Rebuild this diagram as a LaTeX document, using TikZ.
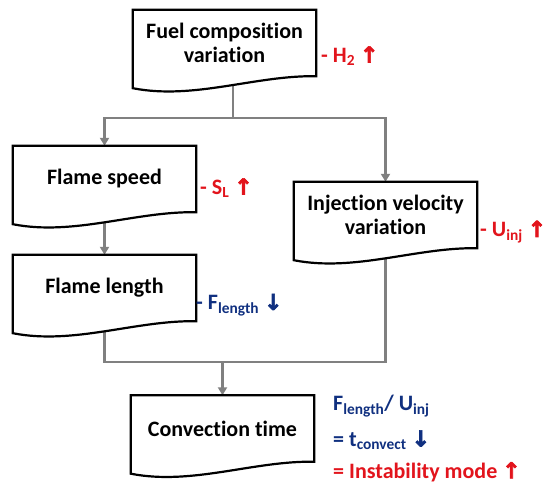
\documentclass[tikz,border=0pt]{standalone}
\usepackage{fontspec}
\setmainfont{Carlito}[Ligatures=NoCommon]
\newfontfamily\arrowfont{DejaVu Sans}[FakeBold=3]
\usetikzlibrary{arrows.meta, calc}

\definecolor{upred}{RGB}{226,20,28}
\definecolor{downblue}{RGB}{16,48,128}
\definecolor{linegray}{RGB}{128,128,128}

\pgfdeclarelayer{wires}
\pgfdeclarelayer{boxes}
\pgfsetlayers{wires,boxes,main}

\newcommand{\arrup}{{\arrowfont ↑}}
\newcommand{\arrdown}{{\arrowfont ↓}}
\newcommand{\docoutline}[1]{%
  \draw[docline] (#1.north west) -- (#1.north east) -- (#1.south east)
    .. controls ($(#1.south east)!0.333!(#1.south west)+(0,1pt)$)
    and ($(#1.south east)!0.667!(#1.south west)+(0,-24pt)$)
    .. ($(#1.south west)+(0,-12pt)$) -- cycle;}

\begin{document}
\begin{tikzpicture}[x=1pt, y=-1pt,
  doc/.style={minimum width=183pt, minimum height=66pt, inner sep=0pt, align=center, font=\fontsize{22}{24}\selectfont\bfseries},
  docline/.style={draw=black, line width=2.2pt, fill=white},
  wire/.style={draw=linegray, line width=2.6pt},
  flow/.style={wire, -{Triangle[length=8pt, width=9pt]}},
  note/.style={anchor=west, inner sep=0pt, font=\fontsize{22}{24}\selectfont\bfseries}]
  \useasboundingbox (0,0) rectangle (550,499);
  % boxes
  \node[doc] (fuel) at (224.5,43) {Fuel composition\\variation};
  \node[doc] (speed) at (104.5,179) {Flame speed};
  \node[doc] (length) at (104.5,288) {Flame length};
  \node[doc] (inject) at (385.5,215) {Injection velocity\\variation};
  \node[doc] (convect) at (222.5,428.5) {Convection time};
  \begin{pgfonlayer}{boxes}
    \foreach \b in {fuel,speed,length,inject,convect}
      \docoutline{\b};
  \end{pgfonlayer}
  % labels
  \node[note, text=upred] (h2) at (321,56) {- H\textsubscript{2} \arrup};
  \node[note, text=upred] (sl) at (200,188) {- S\textsubscript{L} \arrup};
  \node[note, text=upred] (uinj) at (480,232) {- U\textsubscript{inj} \arrup};
  \node[note, text=downblue] (flen) at (196,305) {- F\textsubscript{length} \arrdown};
  \node[note, text=downblue] (ratio) at (333,406) {F\textsubscript{length}/ U\textsubscript{inj}};
  \node[note, text=downblue] (tconv) at (333,440) {= t\textsubscript{convect} \arrdown};
  \node[note, text=upred] (mode) at (333,472) {= Instability mode \arrup};
  % connectors
  \coordinate (split) at (233,118);
  \coordinate (merge) at (222.5,362);
  \begin{pgfonlayer}{wires}
    \draw[wire] (fuel.south -| split) -- (split);
    \draw[flow] (split) -| (speed);
    \draw[flow] (split) -| (inject);
    \draw[flow] (speed) -- (length);
    \draw[wire] (length) |- (inject |- merge) -- (inject);
    \draw[flow] (merge) -- (convect);
  \end{pgfonlayer}
\end{tikzpicture}
\end{document}
